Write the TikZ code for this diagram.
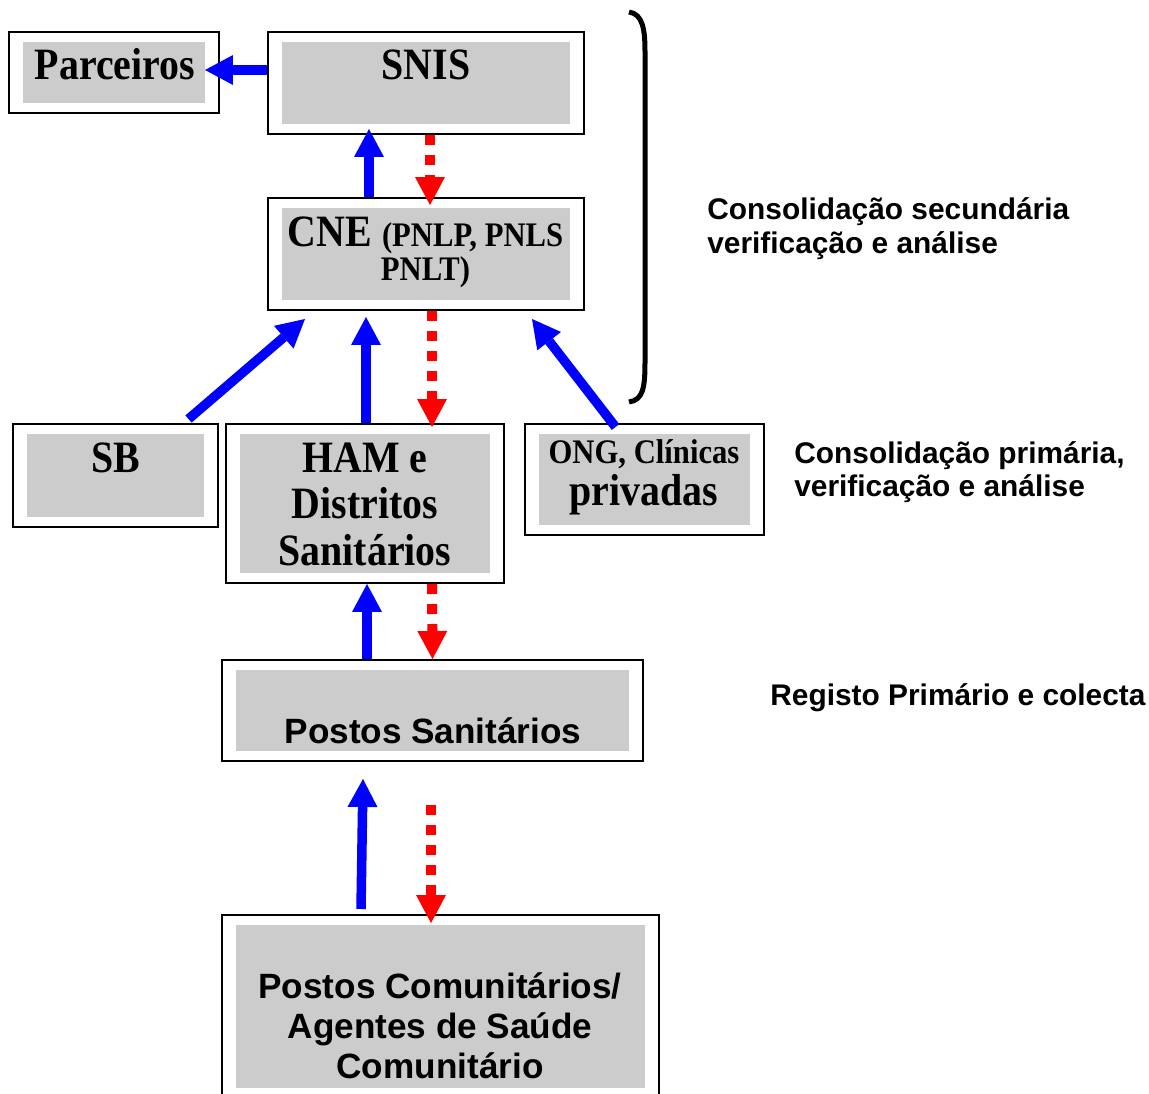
\documentclass[tikz,border=0pt]{standalone}
\usepackage{fontspec}
\setmainfont{Liberation Serif}
\newfontfamily\serc[FakeStretch=0.89]{Liberation Serif}
\newfontfamily\sanf{Liberation Sans}
\usetikzlibrary{arrows.meta,calc}
\definecolor{boxgray}{RGB}{204,204,204}
\newcommand\bigser{\serc\bfseries\fontsize{25.5}{26}\selectfont}
\newcommand\smser{\serc\bfseries\fontsize{19.6}{22}\selectfont}
\newcommand\lblf{\sanf\bfseries\fontsize{17}{19.3}\selectfont}
\newcommand\boxsf{\sanf\bfseries\fontsize{20}{22}\selectfont}
\newcommand\pcsf{\sanf\bfseries\fontsize{20}{22.7}\selectfont}
\begin{document}
\begin{tikzpicture}[x=0.02cm,y=-0.02cm,
  box/.style 2 args={draw=black, line width=0.04cm, inner sep=0pt,
    minimum width=#1*0.02cm, minimum height=#2*0.02cm,
    path picture={\fill[boxgray] ([xshift=0.28cm,yshift=-0.2cm]path picture bounding box.north west)
      rectangle ([xshift=-0.28cm,yshift=0.2cm]path picture bounding box.south east);}},
  txt/.style={inner sep=0pt, anchor=base},
  ltxt/.style={inner sep=0pt, anchor=base west},
  tip/.style={-{Triangle[width=0.6cm,length=0.56cm,line width=0pt]}},
  barrow/.style={draw=blue, line width=0.19cm, tip},
  rarrow/.style={draw=red, line width=0.2cm, dash pattern=on 0.2cm off 0.2cm, tip},
  brace/.style={draw=black, line width=0.1cm}]
\useasboundingbox (0,0) rectangle (1149,1094);

% boxes
\node[box={210}{81}]  (parc) at (114,72.5) {};
\node[box={316}{102}] (snis) at (426,83) {};
\node[box={316}{112}] (cne)  at (426,254) {};
\node[box={205}{103}] (sb)   at (115.5,475.5) {};
\node[box={278}{159}] (ham)  at (365,503.5) {};
\node[box={239}{111}] (ong)  at (644.5,479.5) {};
\node[box={421}{101}] (ps)   at (432.5,710.5) {};
\node[box={437}{183}] (pc)   at (440.5,1006.5) {};

% texts
\node[txt] (parcT) at (115,80) {\bigser Parceiros};
\node[txt] (snisT) at (426,80) {\bigser SNIS};
\node[txt] (cneT1) at (425.5,247) {\bigser CNE \smser(PNLP, PNLS};
\node[txt] (cneT2) at (425.5,281) {\smser PNLT)};
\node[txt] (sbT)   at (116,473) {\bigser SB};
\node[txt] (hamT1) at (365,473) {\bigser HAM e};
\node[txt] (hamT2) at (365,519) {\bigser Distritos};
\node[txt] (hamT3) at (365,565) {\bigser Sanitários};
\node[txt] (ongT1) at (644,463) {\smser ONG, Clínicas};
\node[txt] (ongT2) at (644,505) {\bigser privadas};
\node[txt] (psT)   at (433,743) {\boxsf Postos Sanitários};
\node[txt] (pcT1)  at (440,998) {\pcsf Postos Comunitários/};
\node[txt] (pcT2)  at (440,1038) {\pcsf Agentes de Saúde};
\node[txt] (pcT3)  at (440,1078) {\pcsf Comunitário};

\node[ltxt] (lab1a) at (707,220) {\lblf Consolidação secundária};
\node[ltxt] (lab1b) at (707,254) {\lblf verificação e análise};
\node[ltxt] (lab2a) at (794,463) {\lblf Consolidação primária,};
\node[ltxt] (lab2b) at (794,497) {\lblf verificação e análise};
\node[ltxt] (lab3)  at (770,705) {\lblf Registo Primário e colecta};

% bracket
\coordinate (brT) at (629,12);
\coordinate (brB) at (629,402);
\draw[brace] (brT) .. controls (643,14) and (645,30) .. ($(brT)+(16,40)$)
  -- ($(brB)+(16,-40)$) .. controls (645,388) and (643,400) .. (brB);

% arrows
\draw[barrow] ($(snis.west)+(0,-13)$) -- ($(parc.east)+(-15,-2.5)$);
\draw[barrow] ($(cne.north)+(-57,0)$) -- ($(snis.south)+(-57,-6)$);
\draw[rarrow] ($(snis.south)+(4,0)$) -- ($(cne.north)+(4,8)$);
\draw[barrow] ($(sb.north)+(73,-4)$) -- ($(cne.south)+(-121,8)$);
\draw[barrow] ($(ham.north)+(1,0)$) -- ($(cne.south)+(-60,6)$);
\draw[rarrow] ($(cne.south)+(6,0)$) -- ($(ham.north)+(67,4)$);
\draw[barrow] ($(ong.north)+(-29,4)$) -- ($(cne.south)+(106,8)$);
\draw[barrow] ($(ps.north)+(-65.5,0)$) -- ($(ham.south)+(2,0)$);
\draw[rarrow] ($(ham.south)+(67,0)$) -- ($(ps.north)+(0,0)$);
\draw[barrow] ($(pc.north)+(-79.5,-5)$) -- ($(ps.south)+(-69.5,17)$);
\draw[rarrow] ($(ps.south)+(-1.5,43)$) -- ($(pc.north)+(-9.5,9)$);
\end{tikzpicture}
\end{document}
